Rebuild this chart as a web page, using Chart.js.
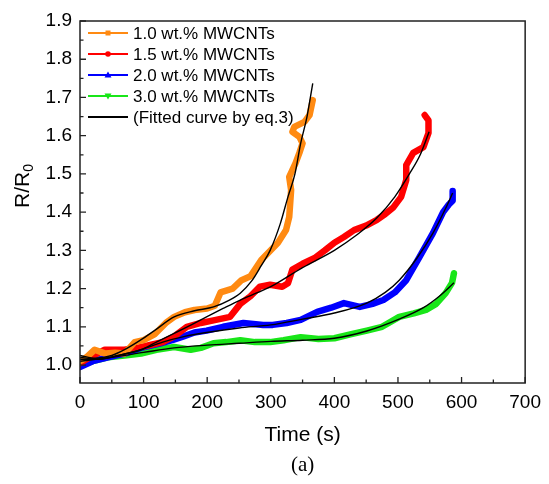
<!DOCTYPE html>
<html>
<head>
<meta charset="utf-8">
<script src="https://cdn.jsdelivr.net/npm/chart.js@4.4.0/dist/chart.umd.min.js"></script>
<style>
  html, body { margin: 0; padding: 0; background: #fff; }
</style>
</head>
<body>
<canvas id="chart" width="549" height="484"></canvas>
<script>
// tick values
const xTicks = [0, 100, 200, 300, 400, 500, 600, 700];
const xMinorTicks = [50, 150, 250, 350, 450, 550, 650];
const yTicks = [1.0, 1.1, 1.2, 1.3, 1.4, 1.5, 1.6, 1.7, 1.8, 1.9];
const yMinorTicks = [1.05, 1.15, 1.25, 1.35, 1.45, 1.55, 1.65, 1.75, 1.85];

const seriesLabels = ["1.0 wt.% MWCNTs", "1.5 wt.% MWCNTs", "2.0 wt.% MWCNTs", "3.0 wt.% MWCNTs"];
const fitLabel = "(Fitted curve by eq.3)";

// measured data (time in s, R/R0)
const t10 = [0, 10, 23, 40, 55, 70, 86, 100, 117, 135, 148, 165, 180, 200, 212, 221, 240, 254, 268, 285, 311, 324, 329, 332, 329, 339, 345, 350, 345, 334, 337, 353, 361, 366];
const r10 = [1.01, 1.02, 1.04, 1.03, 1.032, 1.03, 1.06, 1.065, 1.08, 1.11, 1.126, 1.138, 1.144, 1.148, 1.155, 1.19, 1.2, 1.222, 1.232, 1.275, 1.319, 1.353, 1.387, 1.458, 1.492, 1.528, 1.555, 1.58, 1.597, 1.61, 1.623, 1.636, 1.654, 1.693];

const t15 = [0, 15, 39, 54, 70, 90, 112, 130, 148, 168, 190, 210, 236, 252, 268, 283, 299, 318, 327, 334, 350, 369, 385, 400, 415, 431, 450, 467, 480, 493, 505, 513, 513, 524, 540, 548, 548, 542];
const r15 = [1.005, 1.02, 1.04, 1.04, 1.04, 1.045, 1.053, 1.06, 1.075, 1.1, 1.11, 1.117, 1.126, 1.16, 1.18, 1.205, 1.21, 1.205, 1.214, 1.25, 1.265, 1.28, 1.3, 1.32, 1.335, 1.353, 1.365, 1.38, 1.395, 1.413, 1.44, 1.484, 1.523, 1.555, 1.57, 1.607, 1.64, 1.654];

const t20 = [0, 20, 44, 70, 96, 127, 145, 163, 180, 199, 225, 257, 288, 303, 325, 347, 373, 395, 415, 440, 460, 477, 495, 513, 534, 555, 571, 580, 586, 586];
const r20 = [0.995, 1.01, 1.02, 1.03, 1.045, 1.057, 1.065, 1.075, 1.085, 1.09, 1.1, 1.11, 1.105, 1.105, 1.11, 1.118, 1.139, 1.15, 1.162, 1.152, 1.16, 1.17, 1.19, 1.222, 1.283, 1.345, 1.4, 1.42, 1.43, 1.455];

const t30 = [0, 20, 44, 70, 96, 120, 148, 174, 190, 210, 230, 252, 275, 299, 320, 347, 375, 400, 425, 451, 475, 502, 525, 544, 560, 575, 585, 588];
const r30 = [1.0, 1.01, 1.02, 1.025, 1.03, 1.04, 1.047, 1.04, 1.045, 1.057, 1.06, 1.065, 1.06, 1.06, 1.065, 1.073, 1.068, 1.07, 1.08, 1.09, 1.1, 1.126, 1.135, 1.144, 1.16, 1.188, 1.215, 1.24];

// fitted curves (eq.3)
const fitT10 = [0, 25, 50, 70, 95, 117, 148, 180, 210, 235, 252, 270, 285, 299, 315, 327, 338, 347, 357, 366];
const fitR10 = [1.025, 1.018, 1.025, 1.04, 1.065, 1.09, 1.126, 1.142, 1.152, 1.17, 1.188, 1.22, 1.26, 1.3, 1.37, 1.44, 1.5, 1.58, 1.65, 1.737];
const fitT15 = [0, 30, 60, 96, 120, 148, 175, 199, 225, 252, 280, 300, 350, 400, 435, 467, 495, 518, 535, 549];
const fitR15 = [1.02, 1.015, 1.025, 1.04, 1.06, 1.083, 1.105, 1.126, 1.148, 1.17, 1.19, 1.205, 1.255, 1.3, 1.34, 1.385, 1.44, 1.5, 1.55, 1.61];
const fitT20 = [0, 30, 60, 96, 130, 165, 199, 250, 300, 350, 400, 451, 480, 502, 530, 555, 575, 586];
const fitR20 = [1.015, 1.015, 1.025, 1.04, 1.06, 1.075, 1.085, 1.097, 1.105, 1.12, 1.136, 1.162, 1.19, 1.222, 1.28, 1.345, 1.41, 1.45];
const fitT30 = [0, 50, 100, 148, 200, 250, 300, 350, 400, 451, 502, 540, 565, 588];
const fitR30 = [1.01, 1.02, 1.033, 1.045, 1.052, 1.057, 1.062, 1.065, 1.07, 1.089, 1.12, 1.15, 1.18, 1.215];

const colors = ["#ff8a12", "#ff0000", "#0000ff", "#19e619"];
const markers = ["rect", "circle", "triangle", "invTriangle"];

function pts(ts, rs) {
    return ts.map((t, i) => ({x: t, y: rs[i]}));
}

const dataSeries = [pts(t10, r10), pts(t15, r15), pts(t20, r20), pts(t30, r30)];
const fitSeries = [pts(fitT10, fitR10), pts(fitT15, fitR15), pts(fitT20, fitR20), pts(fitT30, fitR30)];

const datasets = [];
dataSeries.forEach((d, i) => {
    datasets.push({
        label: seriesLabels[i],
        data: d,
        borderColor: colors[i],
        borderWidth: 6.5,
        borderCapStyle: "round",
        borderJoinStyle: "round",
        pointRadius: 0,
        tension: 0,
        order: 2
    });
});
fitSeries.forEach((d) => {
    datasets.push({
        label: fitLabel,
        data: d,
        borderColor: "#000",
        borderWidth: 1.4,
        pointRadius: 0,
        cubicInterpolationMode: "monotone",
        order: 1
    });
});

const FONT = "'Liberation Sans', Arial, sans-serif";

// frame, inward ticks, legend and extra labels
const decorations = {
    id: "decorations",
    afterDraw(chart) {
        const ctx = chart.ctx;
        const area = chart.chartArea;
        const xs = chart.scales.x;
        const ys = chart.scales.y;
        ctx.save();
        ctx.strokeStyle = "#222";
        ctx.lineWidth = 1.5;
        ctx.strokeRect(area.left, area.top, area.right - area.left, area.bottom - area.top);

        ctx.lineWidth = 1.3;
        ctx.beginPath();
        xTicks.forEach(v => {
            const px = xs.getPixelForValue(v);
            ctx.moveTo(px, area.bottom); ctx.lineTo(px, area.bottom - 6);
        });
        xMinorTicks.forEach(v => {
            const px = xs.getPixelForValue(v);
            ctx.moveTo(px, area.bottom); ctx.lineTo(px, area.bottom - 3.5);
        });
        yTicks.forEach(v => {
            const py = ys.getPixelForValue(v);
            ctx.moveTo(area.left, py); ctx.lineTo(area.left + 6, py);
        });
        yMinorTicks.forEach(v => {
            const py = ys.getPixelForValue(v);
            ctx.moveTo(area.left, py); ctx.lineTo(area.left + 3.5, py);
        });
        ctx.stroke();

        // legend
        ctx.font = "17px " + FONT;
        ctx.textBaseline = "middle";
        ctx.fillStyle = "#000";
        const entries = seriesLabels.map((l, i) => ({label: l, color: colors[i], marker: markers[i]}));
        entries.push({label: fitLabel, color: "#000", marker: null});
        entries.forEach((e, i) => {
            const y = area.top + 12 + i * 21;
            const x0 = area.left + 8, x1 = area.left + 48;
            ctx.strokeStyle = e.color;
            ctx.lineWidth = 2;
            ctx.beginPath(); ctx.moveTo(x0, y); ctx.lineTo(x1, y); ctx.stroke();
            const cx = (x0 + x1) / 2;
            ctx.fillStyle = e.color;
            ctx.beginPath();
            if (e.marker === "rect") {
                ctx.rect(cx - 2.5, y - 2.5, 5, 5);
            } else if (e.marker === "circle") {
                ctx.arc(cx, y, 2.8, 0, Math.PI * 2);
            } else if (e.marker === "triangle") {
                ctx.moveTo(cx, y - 3.5); ctx.lineTo(cx + 3.5, y + 2.5); ctx.lineTo(cx - 3.5, y + 2.5);
            } else if (e.marker === "invTriangle") {
                ctx.moveTo(cx, y + 3.5); ctx.lineTo(cx + 3.5, y - 2.5); ctx.lineTo(cx - 3.5, y - 2.5);
            }
            ctx.closePath();
            if (e.marker) ctx.fill();
            ctx.fillStyle = "#000";
            ctx.textAlign = "left";
            ctx.fillText(e.label, x1 + 5, y + 1);
        });

        // y axis title R/R0
        ctx.translate(22, 186);
        ctx.rotate(-Math.PI / 2);
        ctx.font = "21px " + FONT;
        const main = "R/R";
        const w1 = ctx.measureText(main).width;
        ctx.font = "14px " + FONT;
        const w2 = ctx.measureText("0").width;
        const start = -(w1 + w2) / 2;
        ctx.textAlign = "left";
        ctx.textBaseline = "alphabetic";
        ctx.font = "21px " + FONT;
        ctx.fillText(main, start, 7);
        ctx.font = "14px " + FONT;
        ctx.fillText("0", start + w1, 11);
        ctx.setTransform(1, 0, 0, 1, 0, 0);

        // panel label
        ctx.font = "21px 'Liberation Serif', 'Times New Roman', serif";
        ctx.textAlign = "center";
        ctx.textBaseline = "middle";
        ctx.fillText("(a)", (area.left + area.right) / 2, 465);
        ctx.restore();
    }
};

new Chart(document.getElementById("chart"), {
    type: "line",
    data: { datasets: datasets },
    options: {
        responsive: false,
        animation: false,
        events: [],
        layout: { padding: { left: 0, right: 19, top: 21, bottom: 0 } },
        plugins: { legend: { display: false }, tooltip: { enabled: false } },
        scales: {
            x: {
                type: "linear",
                min: 0,
                max: 700,
                afterBuildTicks: s => { s.ticks = xTicks.map(v => ({value: v})); },
                afterFit: s => { s.height = 101; },
                grid: { display: false, drawTicks: false },
                border: { display: false },
                ticks: {
                    padding: 8,
                    color: "#000",
                    font: { family: FONT, size: 19 }
                },
                title: {
                    display: true,
                    text: "Time (s)",
                    color: "#000",
                    font: { family: FONT, size: 21 },
                    padding: { top: 8, bottom: 36 }
                }
            },
            y: {
                type: "linear",
                min: 0.953,
                max: 1.9,
                afterBuildTicks: s => { s.ticks = yTicks.map(v => ({value: v})); },
                afterFit: s => { s.width = 80; },
                grid: { display: false, drawTicks: false },
                border: { display: false },
                ticks: {
                    padding: 8,
                    color: "#000",
                    font: { family: FONT, size: 19 },
                    callback: v => v.toFixed(1)
                }
            }
        }
    },
    plugins: [decorations]
});
</script>
</body>
</html>
